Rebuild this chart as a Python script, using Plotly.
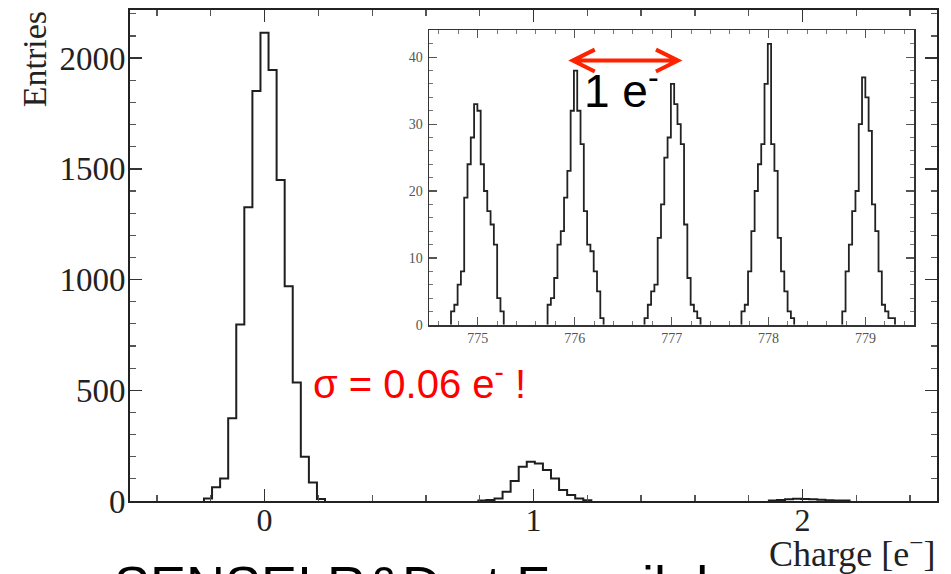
import numpy as np
import plotly.graph_objects as go

# Layout geometry: the page keeps the browser's default 8px body margin; the
# photographed page is 951 x 592 and is shown at 951 x 574, so vertical screen
# positions are converted to page positions with PAGE_H / SHOT_H.
SHOT_W, SHOT_H = 951, 574
PAGE_H = 592
MARGIN = 8
W, H = SHOT_W - 2 * MARGIN, PAGE_H - 2 * MARGIN
KY = PAGE_H / SHOT_H

# ---------------- data ----------------
main_bin_width = 0.03
peak0_start = -0.225
peak0_counts = [12, 62, 102, 374, 797, 1327, 1851, 2114, 1946, 1450, 970, 535, 200, 84, 9]
peak1_start = 0.795
peak1_counts = [2, 5, 12, 42, 90, 155, 177, 170, 140, 102, 50, 27, 12, 4]
peak2_start = 1.875
peak2_counts = [2, 5, 8, 10, 9, 8, 6, 4, 3, 2]

inset_bin_width = 0.034
inset_starts = [774.724, 775.72, 776.72, 777.72, 778.76]
inset_775 = [2, 3, 6, 8, 19, 24, 28, 33, 32, 24, 20, 17, 15, 12, 4, 2]
inset_776 = [3, 4, 7, 12, 14, 19, 23, 32, 38, 32, 27, 17, 12, 11, 8, 5, 1]
inset_777 = [1, 3, 5, 6, 13, 18, 25, 28, 36, 33, 30, 27, 15, 7, 3, 2, 1]
inset_778 = [2, 3, 8, 14, 20, 24, 27, 36, 42, 27, 23, 13, 8, 5, 2, 1]
inset_779 = [2, 8, 12, 17, 20, 30, 37, 34, 29, 18, 14, 8, 3, 2, 1, 1]
inset_counts = [inset_775, inset_776, inset_777, inset_778, inset_779]

main_xticks = [0, 1, 2]
main_yticks = [0, 500, 1000, 1500, 2000]
inset_xticks = [775, 776, 777, 778, 779]
inset_yticks = [0, 10, 20, 30, 40]

arrow_x = [775.98, 777.065]
arrow_y = 39.5


def step_xy(start, width, counts):
    edges = start + width * np.arange(len(counts) + 1)
    xs = [edges[0]] + list(edges[:-1]) + [edges[-1]]
    ys = [0] + list(counts) + [0]
    return xs, ys


def px_x(p):
    """screen pixel x -> paper fraction"""
    return (p - MARGIN) / W


def px_y(p):
    """screen pixel y (from top) -> paper fraction"""
    return 1 - (p * KY - MARGIN) / H


fig = go.Figure()

for st, cts in [(peak0_start, peak0_counts), (peak1_start, peak1_counts), (peak2_start, peak2_counts)]:
    xs, ys = step_xy(st, main_bin_width, cts)
    fig.add_trace(go.Scatter(x=xs, y=ys, mode="lines",
                             line=dict(color="#1e1e1e", width=2, shape="hv"),
                             xaxis="x", yaxis="y", showlegend=False, hoverinfo="skip"))

for st, cts in zip(inset_starts, inset_counts):
    xs, ys = step_xy(st, inset_bin_width, cts)
    fig.add_trace(go.Scatter(x=xs, y=ys, mode="lines",
                             line=dict(color="#222", width=1.8, shape="hv"),
                             xaxis="x2", yaxis="y2", showlegend=False, hoverinfo="skip"))

serif = "Liberation Serif"
sans = "Liberation Sans"

common_axis = dict(showgrid=False, zeroline=False, showline=True, mirror="allticks",
                   ticks="inside", fixedrange=True)

fig.update_layout(
    width=W, height=H,
    margin=dict(l=0, r=0, t=0, b=0),
    paper_bgcolor="white", plot_bgcolor="white",
    xaxis=dict(common_axis, domain=[px_x(130), px_x(937)], range=[-0.5, 2.5],
               tickvals=main_xticks, ticklen=12, tickwidth=1.5, tickcolor="#333",
               linecolor="#222", linewidth=2,
               minor=dict(dtick=0.2, tick0=0, ticklen=6, tickwidth=1.2, tickcolor="#555", ticks="inside"),
               tickfont=dict(family=serif, size=32, color="#222"), anchor="y",
               ticklabelstandoff=-10),
    yaxis=dict(common_axis, domain=[px_y(502), px_y(9)], range=[0, 2216],
               tickvals=main_yticks, ticklen=12, tickwidth=1.5, tickcolor="#333",
               linecolor="#222", linewidth=2,
               minor=dict(dtick=100, tick0=0, ticklen=6, tickwidth=1.2, tickcolor="#555", ticks="inside"),
               tickfont=dict(family=serif, size=33, color="#222"), anchor="x",
               ticklabelstandoff=-4),
    xaxis2=dict(common_axis, domain=[px_x(429.3), px_x(914)], range=[774.5, 779.5],
                tickvals=inset_xticks, ticklen=8, tickwidth=1.2, tickcolor="#555",
                linecolor="#333", linewidth=1.8,
                minor=dict(dtick=0.2, tick0=775, ticklen=4, tickwidth=1, tickcolor="#777", ticks="inside"),
                tickfont=dict(family=serif, size=14, color="#555"), anchor="y2"),
    yaxis2=dict(common_axis, domain=[px_y(325), px_y(29.3)], range=[0, 44],
                tickvals=inset_yticks, ticklen=8, tickwidth=1.2, tickcolor="#555",
                linecolor="#333", linewidth=1.8,
                minor=dict(dtick=2, tick0=0, ticklen=4, tickwidth=1, tickcolor="#777", ticks="inside"),
                tickfont=dict(family=serif, size=14, color="#555"), anchor="x2", ticklabelstandoff=2),
)

annotations = [
    dict(text="Entries", x=px_x(34), y=px_y(9), xanchor="center", yanchor="top", textangle=-90,
         font=dict(family=serif, size=34, color="#222")),
    dict(text="Charge [e<sup>−</sup>]", x=px_x(937), y=px_y(553), xanchor="right", yanchor="middle",
         font=dict(family=serif, size=36, color="#222")),
    dict(text="σ = 0.06 e<sup>-</sup> !", x=px_x(312), y=px_y(381), xanchor="left", yanchor="middle",
         font=dict(family=sans, size=40, color="#ff0000")),
    dict(text="1 e<sup>-</sup>", x=px_x(583), y=px_y(87), xanchor="left", yanchor="middle",
         font=dict(family=sans, size=46, color="black")),
    dict(text=")", x=px_x(12), y=px_y(378), xanchor="right", yanchor="middle",
         font=dict(family=sans, size=72, color="black")),
    dict(text="SENSEI R&amp;D at Fermilab", x=px_x(113), y=px_y(555), xanchor="left", yanchor="top",
         font=dict(family=sans, size=54, color="black")),
]
for a in annotations:
    a.update(xref="paper", yref="paper", showarrow=False, borderpad=0)
fig.update_layout(annotations=annotations)

# red double arrow spanning one electron in the inset
dx, dy = 0.227, 1.63
x0, x1 = arrow_x
path = (f"M {x0},{arrow_y} L {x1},{arrow_y} "
        f"M {x0 + dx},{arrow_y + dy} L {x0},{arrow_y} L {x0 + dx},{arrow_y - dy} "
        f"M {x1 - dx},{arrow_y + dy} L {x1},{arrow_y} L {x1 - dx},{arrow_y - dy}")
fig.update_layout(shapes=[
    dict(type="path", path=path, xref="x2", yref="y2", line=dict(color="#ff2200", width=4)),
    # small leftover slide graphic at the left edge
    dict(type="rect", xref="paper", yref="paper", x0=px_x(0), x1=px_x(8), y0=px_y(217), y1=px_y(196),
         fillcolor="#b4bad0", line=dict(width=0)),
    dict(type="rect", xref="paper", yref="paper", x0=px_x(0), x1=px_x(8), y0=px_y(206), y1=px_y(203),
         fillcolor="#5c6688", line=dict(width=0)),
    dict(type="rect", xref="paper", yref="paper", x0=px_x(0), x1=px_x(8), y0=px_y(213), y1=px_y(210),
         fillcolor="#7a829e", line=dict(width=0)),
])

fig.write_html("out.html", config={"displayModeBar": False, "staticPlot": True})
